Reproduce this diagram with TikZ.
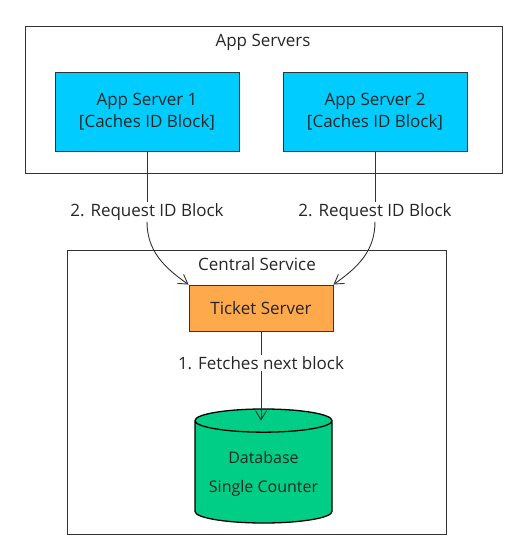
\documentclass[tikz,border=0pt]{standalone}
\usepackage{fontspec}
\setmainfont{Open Sans}
\usetikzlibrary{arrows.meta,shapes.geometric}

\definecolor{appcyan}{RGB}{0,204,255}
\definecolor{tickorange}{RGB}{255,169,77}
\definecolor{dbgreen}{RGB}{0,206,134}
\definecolor{edgegray}{RGB}{51,51,51}

\tikzset{
  group/.style={draw=edgegray, line width=0.9pt, anchor=north west, inner sep=0pt},
  appbox/.style={draw=edgegray, fill=appcyan, line width=0.9pt, minimum width=184pt,
    minimum height=79pt, align=center, font=\fontsize{17}{21.5}\selectfont, text=black!85},
  tickbox/.style={draw=edgegray, fill=tickorange, line width=0.9pt, minimum width=144pt,
    minimum height=46pt, font=\fontsize{17}{21}\selectfont, text=black!85},
  dbbox/.style={cylinder, shape border rotate=90, draw=black, fill=dbgreen, line width=1.3pt,
    minimum width=137pt, minimum height=114pt, aspect=0.2, align=center,
    font=\fontsize{16}{29}\selectfont, text=black!85, anchor=shape center},
  edgelbl/.style={fill=white, inner sep=1pt, font=\fontsize{17}{20}\selectfont, text=black!85},
  grplbl/.style={font=\fontsize{17}{20}\selectfont, text=black!85},
  flow/.style={draw=edgegray, line width=0.9pt, -{Straight Barb[length=9pt,width=11pt]}}
}

\begin{document}
\begin{tikzpicture}[x=1pt,y=-1pt]
\useasboundingbox (0,0) rectangle (525,560);

% groups
\node[group, minimum width=477pt, minimum height=147pt] (appgrp) at (25,26) {};
\node[grplbl] (appgrplbl) at (263,42) {App Servers};
\node[group, minimum width=379pt, minimum height=284pt] (centralgrp) at (67,250) {};
\node[grplbl] (centralgrplbl) at (257,264) {Central Service};

% nodes
\node[appbox] (as1) at (147,111.5) {App Server 1\\{[}Caches ID Block{]}};
\node[appbox] (as2) at (375,111.5) {App Server 2\\{[}Caches ID Block{]}};
\node[tickbox] (ticket) at (261,308) {Ticket Server};
\node[dbbox] (db) at (263.5,466) {Database\\Single Counter};

% edge labels
\node[edgelbl] (req1) at (147,212) {2. Request ID Block};
\node[edgelbl] (req2) at (375,212) {2. Request ID Block};
\node[edgelbl] (fetch) at (261,363) {1. Fetches next block};

% connectors
\draw[edgegray, line width=0.9pt] (as1.south) -- (req1.north);
\draw[flow] (req1.south) to[out=-90,in=145] (ticket.north west);
\draw[edgegray, line width=0.9pt] (as2.south) -- (req2.north);
\draw[flow] (req2.south) to[out=-90,in=35] (ticket.north east);
\draw[edgegray, line width=0.9pt] (ticket.south) -- (fetch.north);
\draw[flow] (fetch.south) -- (fetch.south |- db.before top);
\end{tikzpicture}
\end{document}
